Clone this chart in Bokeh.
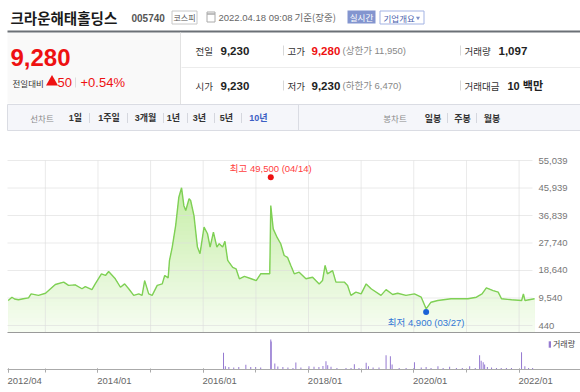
import numpy as np
import pandas as pd
from bokeh.plotting import figure
from bokeh.layouts import column
from bokeh.models import (Range1d, FixedTicker, LinearAxis, CustomJSTickFormatter,
                          Legend, LegendItem)
from bokeh.core.properties import value
from bokeh.embed import file_html
from bokeh.resources import INLINE

KR = "Noto Sans CJK KR"
NUM = "Liberation Sans, Noto Sans CJK KR"
W = 580

# ---------------- data ----------------
company = "크라운해태홀딩스"
code = "005740"
market = "코스피"
stamp = "2022.04.18 09:08"
stamp_note = "기준(장중)"
price_now = "9,280"
change = "50"
change_pct = "+0.54%"
prev_close = "9,230"
open_price = "9,230"
high_price = "9,280"
low_price = "9,230"
upper_limit = "11,950"
lower_limit = "6,470"
volume_today = "1,097"
turnover = "10 백만"
line_tabs = ["1일", "1주일", "3개월", "1년", "3년", "5년", "10년"]
candle_tabs = ["일봉", "주봉", "월봉"]

dates = ["2012-04-18", "2012-05-14", "2012-06-01", "2012-06-28", "2012-08-01", "2012-09-06",
         "2012-09-24", "2012-11-14", "2013-01-02", "2013-03-11", "2013-05-08", "2013-06-11",
         "2013-07-27", "2013-09-12", "2013-10-05", "2013-11-20", "2013-12-13", "2014-01-25",
         "2014-02-22", "2014-03-16", "2014-05-01", "2014-06-06", "2014-07-05", "2014-08-02",
         "2014-09-06", "2014-10-11", "2014-11-03", "2014-11-21", "2014-12-19", "2015-01-12",
         "2015-02-16", "2015-03-23", "2015-04-09", "2015-05-03", "2015-05-12", "2015-05-31",
         "2015-06-24", "2015-07-16", "2015-08-04", "2015-08-20", "2015-09-02", "2015-09-25",
         "2015-10-06", "2015-10-29", "2015-11-22", "2015-12-10", "2016-01-07", "2016-01-31",
         "2016-02-18", "2016-03-12", "2016-04-05", "2016-04-21", "2016-05-15", "2016-05-31",
         "2016-06-19", "2016-07-24", "2016-08-16", "2016-09-08", "2016-10-13", "2016-11-29",
         "2017-01-03", "2017-02-03", "2017-04-07", "2017-04-14", "2017-05-01", "2017-05-29",
         "2017-06-22", "2017-07-16", "2017-08-08", "2017-08-31", "2017-09-24", "2017-10-28",
         "2017-12-14", "2018-01-29", "2018-03-16", "2018-04-08", "2018-04-26", "2018-05-12",
         "2018-06-17", "2018-07-10", "2018-09-06", "2018-09-29", "2018-10-22", "2018-11-26",
         "2019-01-01", "2019-02-05", "2019-03-11", "2019-05-19", "2019-06-23", "2019-08-08",
         "2019-09-12", "2019-11-08", "2020-01-06", "2020-02-22", "2020-03-27", "2020-04-30",
         "2020-06-16", "2020-09-16", "2021-01-11", "2021-03-11", "2021-04-19", "2021-05-19",
         "2021-07-05", "2021-08-09", "2021-09-01", "2021-11-10", "2022-01-19", "2022-01-31",
         "2022-02-11", "2022-04-18"]
prices = [8700, 9800, 9200, 8950, 9300, 9600,
          10900, 10400, 11100, 14000, 14800, 13700,
          13900, 12600, 13300, 12300, 14200, 17500,
          17000, 18300, 15900, 13100, 14200, 12600,
          10400, 10900, 10400, 15300, 10900, 10400,
          13700, 14200, 17000, 16200, 21900, 26300,
          33500, 42900, 46000, 40100, 38500, 42400,
          41800, 36800, 26400, 24200, 33000, 30800,
          26400, 31300, 26400, 27500, 26400, 28300,
          22000, 19700, 19200, 15900, 16700, 15900,
          15300, 17550, 17550, 40150, 32400, 29500,
          27500, 23600, 23000, 20300, 17550, 18100,
          15900, 16400, 14200, 15300, 20300, 17550,
          18600, 14800, 14800, 13700, 10400, 11500,
          10900, 14200, 12600, 10400, 12300, 10700,
          11100, 10400, 10900, 9800, 5950, 8150,
          8700, 9300, 9300, 9800, 10900, 12900,
          12000, 11500, 9300, 8950, 8700, 10900,
          8700, 9280]

vol_dates = ["2016-05-21", "2016-06-03", "2016-06-27", "2016-07-31", "2016-09-04", "2016-10-23",
             "2016-11-26", "2016-12-30", "2017-02-03", "2017-04-14", "2017-04-17", "2017-05-12",
             "2017-06-02", "2017-07-07", "2017-08-11", "2017-09-15", "2017-10-05", "2017-11-09",
             "2018-01-04", "2018-02-08", "2018-03-14", "2018-04-11", "2018-05-02", "2018-05-14",
             "2018-06-06", "2018-07-17", "2018-09-18", "2018-10-23", "2018-11-15", "2018-12-17",
             "2019-02-05", "2019-02-21", "2019-03-25", "2019-05-05", "2019-06-23", "2019-07-23",
             "2019-08-04", "2019-09-22", "2019-11-09", "2020-01-06", "2020-02-22", "2020-03-27",
             "2020-04-30", "2020-06-17", "2020-07-23", "2020-09-06", "2020-10-23", "2020-12-03",
             "2021-01-23", "2021-03-03", "2021-04-02", "2021-04-13", "2021-04-27", "2021-05-07",
             "2021-05-26", "2021-06-24", "2021-07-28", "2021-08-30", "2021-10-05", "2021-11-09",
             "2022-01-18", "2022-02-10", "2022-03-08", "2022-04-05"]
vol_values = [667000, 133000, 100000, 80000, 100000, 187000,
              100000, 100000, 80000, 1200000, 1120000, 240000,
              120000, 100000, 80000, 60000, 280000, 80000,
              133000, 107000, 100000, 140000, 333000, 173000,
              107000, 60000, 60000, 60000, 213000, 60000,
              267000, 133000, 80000, 80000, 573000, 533000,
              200000, 60000, 60000, 293000, 80000, 100000,
              60000, 133000, 60000, 107000, 60000, 60000,
              133000, 60000, 573000, 347000, 293000, 200000,
              100000, 80000, 60000, 60000, 60000, 60000,
              693000, 133000, 60000, 60000]

y_ticks = [440, 9540, 18640, 27740, 36839, 45939, 55039]
y_tick_labels = ["440", "9,540", "18,640", "27,740", "36,839", "45,939", "55,039"]
x_tick_dates = ["2012-04-18", "2013-01-01", "2014-01-01", "2015-01-01", "2016-01-01", "2017-01-01",
                "2018-01-01", "2019-01-01", "2020-01-01", "2021-01-01", "2022-01-01"]
x_label_dates = ["2012-04-18", "2014-01-01", "2016-01-01", "2018-01-01", "2020-01-01", "2022-01-01"]
max_date, max_price, max_label = "2017-04-14", 49500, "최고 49,500 (04/14)"
min_date, min_price, min_label = "2020-03-27", 4900, "최저 4,900 (03/27)"
vol_legend = "거래량"


def to_ms(d):
    return np.array(pd.to_datetime(d).values.astype("datetime64[ms]").astype("int64"), dtype=float)


X = to_ms(dates)
P = np.array(prices, dtype=float)
VX = to_ms(vol_dates)
VV = np.array(vol_values, dtype=float)
TX = to_ms(x_tick_dates)
LX = to_ms(x_label_dates)

# ---------------- header ----------------
hdr = figure(width=W, height=138, x_range=Range1d(0, W), y_range=Range1d(138, 0),
             x_axis_type=None, y_axis_type=None, toolbar_location=None,
             output_backend="svg", min_border=0, outline_line_color=None)
hdr.grid.visible = False


def t(x, y, s, size, color="#333333", bold=False, font=NUM, align="left"):
    hdr.text(x=[x], y=[y], text=[s], text_font=value(font), text_font_size=f"{size}px",
             text_font_style="bold" if bold else "normal", text_color=color,
             text_align=align, text_baseline="middle")


def box(l, r, tp, b, fill, line):
    hdr.quad(left=[l], right=[r], top=[tp], bottom=[b], fill_color=fill, line_color=line)


def seg(x0, y0, x1, y1, color, w=1):
    hdr.segment(x0=[x0], y0=[y0], x1=[x1], y1=[y1], line_color=color, line_width=w)


box(7, 180, 32, 103, "#f9f9f9", None)
t(10, 16.5, company, 14.5, "#1a1a1a", True, KR)
t(131, 17, code, 10, "#555555", True)
box(171.5, 196.5, 10.5, 23.5, "#ffffff", "#c8c8c8")
t(184, 17, market, 8, "#555555", False, KR, "center")
box(206.5, 214.5, 11.5, 21.5, None, "#aaaaaa")
seg(206.5, 13.5, 214.5, 13.5, "#aaaaaa", 1.5)
t(218, 16.5, stamp, 9.5, "#666666")
t(294, 16.5, stamp_note, 9.5, "#666666", False, KR)
box(347, 375, 10, 23, "#8395cf", None)
t(361, 16.5, "실시간", 8.5, "#ffffff", False, KR, "center")
box(379.5, 423.5, 10.5, 23.5, "#ffffff", "#a3b3e3")
t(383, 17, "기업개요", 8.5, "#4b62ad", False, KR)
hdr.scatter(x=[417.5], y=[17.5], marker="inverted_triangle", size=4, fill_color="#7d8fc8", line_color=None)
seg(7, 31, W, 31, "#6b7076", 2)
seg(180, 32, 180, 104, "#e2e2e2")
seg(181, 67, W, 67, "#ececec")

t(10, 57, price_now, 24, "#ee1111", True)
t(12, 82, "전일대비", 8.5, "#333333", False, KR)
hdr.scatter(x=[51.5], y=[81.5], marker="triangle", size=12, fill_color="#ee1111", line_color=None)
t(57, 82, change, 13, "#ee1111")
seg(75, 77, 75, 87, "#dddddd")
t(80, 82, change_pct, 13, "#ee1111")

t(195, 50, "전일", 9.5, "#333333", False, KR)
t(220, 50, prev_close, 11.5, "#222222", True)
t(195, 85, "시가", 9.5, "#333333", False, KR)
t(220, 85, open_price, 11.5, "#222222", True)
seg(283, 45, 283, 55, "#d8d8d8")
seg(283, 80, 283, 90, "#d8d8d8")
t(287, 50, "고가", 9.5, "#333333", False, KR)
t(311, 50, high_price, 11.5, "#ee1111", True)
t(342, 50, "(상한가 " + upper_limit + ")", 9.5, "#888888")
t(287, 85, "저가", 9.5, "#333333", False, KR)
t(311, 85, low_price, 11.5, "#222222", True)
t(342, 85, "(하한가 " + lower_limit + ")", 9.5, "#888888")
seg(460, 45, 460, 55, "#d8d8d8")
seg(460, 80, 460, 90, "#d8d8d8")
t(464, 50, "거래량", 9.5, "#333333", False, KR)
t(498, 50, volume_today, 11.5, "#222222", True)
t(464, 85, "거래대금", 9.5, "#333333", False, KR)
t(507, 85, turnover, 11, "#222222", True)

box(7, W, 104, 130, "#f5f6fa", "#dadce3")
seg(298, 104, 298, 130, "#dadce3")
t(41.5, 117.5, "선차트", 8.5, "#8a8a8a", False, KR, "center")
tab_x = [75, 108.5, 145, 173, 199, 226, 258]
for xx, s in zip(tab_x, line_tabs):
    t(xx, 117.5, s, 9, "#3c5fc4" if s == "10년" else "#333333", True, NUM, "center")
for xx in [89, 127, 163, 187, 214, 241]:
    seg(xx, 112.5, xx, 122.5, "#d5d7de")
t(394.5, 117.5, "봉차트", 8.5, "#8a8a8a", False, KR, "center")
for xx, s in zip([432.5, 462, 491.5], candle_tabs):
    t(xx, 117.5, s, 9, "#333333", True, KR, "center")
for xx in [447, 476]:
    seg(xx, 112.5, xx, 122.5, "#d5d7de")

# ---------------- price chart ----------------
t0, t1 = X[0], X[-1]
mspp = (t1 - t0) / 526.3
xr = Range1d(t0 - 7.7 * mspp, t0 + (W - 7.7) * mspp)
px_per_val = 165.0 / (y_ticks[-1] - y_ticks[0])
Y_BOTTOM = y_ticks[0] - 8 / px_per_val
Y_TOP = y_ticks[-1] + 10 / px_per_val
left_edge = t0 - 0.7 * mspp

pp = figure(width=W, height=195, x_range=xr, y_range=Range1d(Y_BOTTOM, Y_TOP),
            x_axis_type=None, y_axis_type=None, toolbar_location=None,
            output_backend="svg", min_border=0, min_border_top=12, outline_line_color=None)
pp.grid.visible = False

top_rgb = np.array([190, 235, 155], dtype=float)
bot_rgb = np.array([248, 253, 244], dtype=float)
edges = np.linspace(Y_BOTTOM, 50000, 41)
for hi in edges[::-1][:-1]:
    f = (hi - Y_BOTTOM) / (y_ticks[-1] - Y_BOTTOM)
    c = bot_rgb + f * (top_rgb - bot_rgb)
    col = "#%02x%02x%02x" % tuple(int(round(v)) for v in c)
    pp.varea(x=X, y1=np.full_like(P, Y_BOTTOM), y2=np.minimum(P, hi), fill_color=col)

grid_end = t1 - 2 * mspp
pp.segment(x0=np.full(len(y_ticks), left_edge), y0=y_ticks, x1=np.full(len(y_ticks), grid_end),
           y1=y_ticks, line_color="#dcdcdc", line_alpha=0.6, line_width=1)
pp.segment(x0=TX[1:], y0=np.full(len(TX) - 1, Y_BOTTOM), x1=TX[1:],
           y1=np.full(len(TX) - 1, y_ticks[-1]), line_color="#dcdcdc", line_alpha=0.6, line_width=1)

pp.line(X, P, line_color="#7fd055", line_width=1.4)

pp.text(x=np.full(len(y_ticks), t1 + 4 * mspp), y=y_ticks, text=y_tick_labels,
        text_font=value("Liberation Sans"), text_font_size="9.5px", text_color="#777777",
        text_align="left", text_baseline="middle")

mx = to_ms([max_date])
mn = to_ms([min_date])
pp.scatter(x=mx, y=[max_price], size=6, fill_color="#ee1111", line_color=None)
pp.text(x=mx, y=[max_price], text=[max_label], y_offset=-9, text_font=value(NUM),
        text_font_size="9.5px", text_color="#ff4040", text_align="center", text_baseline="middle")
pp.scatter(x=mn, y=[min_price], size=6, fill_color="#1a62d6", line_color=None)
pp.text(x=mn, y=[min_price], text=[min_label], y_offset=10, text_font=value(NUM),
        text_font_size="9.5px", text_color="#3178d6", text_align="center", text_baseline="middle")

sep_y = Y_BOTTOM + 0.7 / px_per_val
pp.segment(x0=[left_edge], y0=[sep_y], x1=[xr.end], y1=[sep_y], line_color="#9a9a9a", line_width=1.4)

# ---------------- volume chart ----------------
pv = figure(width=W, height=59, x_range=xr, y_range=Range1d(0, 1440000),
            x_axis_type=None, y_axis_type=None, toolbar_location=None,
            output_backend="svg", min_border=0, min_border_bottom=23, outline_line_color=None)
pv.grid.visible = False
vr = pv.vbar(x=VX, top=VV, width=7 * 86400000, fill_color="#8a6bcc", fill_alpha=0.9, line_color=None)

tick_axis = LinearAxis(ticker=FixedTicker(ticks=list(LX), minor_ticks=list(TX)),
                       formatter=CustomJSTickFormatter(code="return ''"),
                       bounds=(left_edge, xr.end))
tick_axis.axis_line_color = "#aaaaaa"
tick_axis.major_tick_line_color = "#aaaaaa"
tick_axis.minor_tick_line_color = "#aaaaaa"
tick_axis.major_tick_in = 1
tick_axis.major_tick_out = 3
tick_axis.minor_tick_in = 1
tick_axis.minor_tick_out = 3
tick_axis.major_label_standoff = 0
tick_axis.major_label_text_font_size = "1px"
pv.add_layout(tick_axis, "below")

shift = 16.5 * mspp
label_axis = LinearAxis(ticker=FixedTicker(ticks=list(LX + shift)),
                        formatter=CustomJSTickFormatter(args=dict(shift=shift), code="""
const d = new Date(tick - shift);
return d.getUTCFullYear() + "/" + String(d.getUTCMonth() + 1).padStart(2, "0");
"""))
label_axis.axis_line_color = None
label_axis.major_tick_line_color = None
label_axis.minor_tick_line_color = None
label_axis.major_tick_in = 0
label_axis.major_tick_out = 0
label_axis.major_label_standoff = 2
label_axis.major_label_text_font = "Liberation Sans"
label_axis.major_label_text_font_size = "9.5px"
label_axis.major_label_text_color = "#666666"
pv.add_layout(label_axis, "below")

legend = Legend(items=[LegendItem(label=vol_legend, renderers=[vr])], location="top_right",
                glyph_width=3, glyph_height=8, label_standoff=2, padding=0, margin=5,
                border_line_color=None, background_fill_alpha=0,
                label_text_font=KR, label_text_font_size="8px", label_text_color="#444444",
                label_height=9)
pv.add_layout(legend)

layout = column(hdr, pp, pv)
open("out.html", "w").write(file_html(layout, INLINE))
